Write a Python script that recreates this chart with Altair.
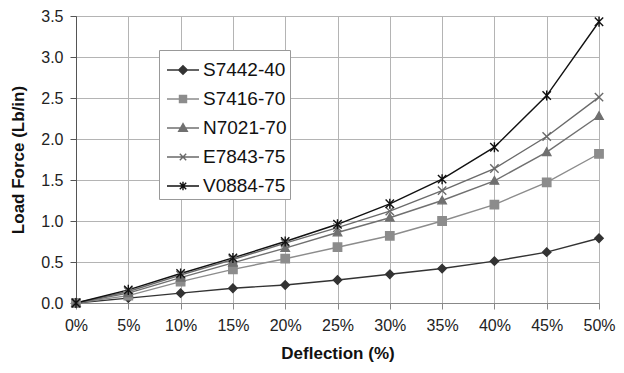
import altair as alt
import pandas as pd

deflection = [0, 5, 10, 15, 20, 25, 30, 35, 40, 45, 50]
series_names = ["S7442-40", "S7416-70", "N7021-70", "E7843-75", "V0884-75"]
s7442_40 = [0, 0.06, 0.12, 0.18, 0.22, 0.28, 0.35, 0.42, 0.51, 0.62, 0.79]
s7416_70 = [0, 0.09, 0.26, 0.41, 0.54, 0.68, 0.82, 1.00, 1.20, 1.47, 1.82]
n7021_70 = [0, 0.12, 0.31, 0.49, 0.67, 0.86, 1.04, 1.25, 1.49, 1.84, 2.28]
e7843_75 = [0, 0.14, 0.34, 0.53, 0.73, 0.92, 1.12, 1.37, 1.64, 2.03, 2.51]
v0884_75 = [0, 0.16, 0.36, 0.55, 0.75, 0.96, 1.21, 1.51, 1.90, 2.53, 3.43]
y_ticks = [0, 0.5, 1.0, 1.5, 2.0, 2.5, 3.0, 3.5]

colors = ["#333333", "#8c8c8c", "#707070", "#6a6a6a", "#111111"]
point_shapes = [
    "M0,-1L1,0L0,1L-1,0Z",
    "M-1,-1H1V1H-1Z",
    "M0,-1L1,0.8H-1Z",
    "M-1,-1L1,1M-1,1L1,-1",
    "M-1,-1L1,1M-1,1L1,-1M0,-1.2V1.2",
]
legend_shapes = [
    "M-1,0H1M0,-0.27L0.27,0L0,0.27L-0.27,0Z",
    "M-1,0H1M-0.22,-0.22H0.22V0.22H-0.22Z",
    "M-1,0H1M0,-0.27L0.27,0.2H-0.27Z",
    "M-1,0H1M-0.2,-0.2L0.2,0.2M-0.2,0.2L0.2,-0.2",
    "M-1,0H1M-0.2,-0.2L0.2,0.2M-0.2,0.2L0.2,-0.2M0,-0.27V0.27",
]

values = [s7442_40, s7416_70, n7021_70, e7843_75, v0884_75]
rows = []
for name, vals in zip(series_names, values):
    for d, v in zip(deflection, vals):
        rows.append({"series": name, "deflection": d, "force": v})
df = pd.DataFrame(rows)

FONT = "Liberation Sans"

x_enc = alt.X(
    "deflection:Q",
    scale=alt.Scale(domain=[0, 50], nice=False),
    axis=alt.Axis(
        values=deflection,
        labelExpr="datum.value + '%'",
        title="Deflection (%)",
        domainColor="#888888",
        tickColor="#888888",
        tickSize=6,
        labelPadding=8,
        labelFlush=False,
        titlePadding=12,
    ),
)
y_enc = alt.Y(
    "force:Q",
    scale=alt.Scale(domain=[0, 3.5], nice=False),
    axis=alt.Axis(
        values=y_ticks,
        format=".1f",
        title="Load Force (Lb/in)",
        domainColor="#555555",
        tickColor="#555555",
        tickSize=6,
        labelPadding=7,
        labelFlush=False,
        titlePadding=13,
    ),
)

stroke_scale = alt.Scale(domain=series_names, range=colors)

lines = alt.Chart(df).mark_line(strokeWidth=1.4).encode(
    x=x_enc,
    y=y_enc,
    stroke=alt.Stroke("series:N", scale=stroke_scale, legend=None),
    detail="series:N",
)

points = alt.Chart(df).mark_point(filled=True, size=70, strokeWidth=1.4, opacity=1).encode(
    x="deflection:Q",
    y="force:Q",
    shape=alt.Shape("series:N", scale=alt.Scale(domain=series_names, range=point_shapes), legend=None),
    fill=alt.Fill("series:N", scale=stroke_scale, legend=None),
    stroke=alt.Stroke("series:N", scale=stroke_scale, legend=None),
)

legend_cfg = alt.Legend(
    title=None,
    orient="none",
    legendX=83,
    legendY=34,
    fillColor="white",
    strokeColor="#999999",
    padding=3,
    symbolOffset=4,
    symbolSize=1024,
    symbolStrokeWidth=1.4,
    labelFont=FONT,
    labelFontSize=19,
    labelColor="#111111",
    labelOffset=3,
    labelExpr="datum.label + ' '",
    rowPadding=2,
)

legend_layer = alt.Chart(df).transform_filter("false").mark_point(filled=True, opacity=1).encode(
    x="deflection:Q",
    y="force:Q",
    shape=alt.Shape("series:N", scale=alt.Scale(domain=series_names, range=legend_shapes), legend=legend_cfg),
    fill=alt.Fill("series:N", scale=alt.Scale(domain=series_names, range=colors), legend=legend_cfg),
    stroke=alt.Stroke("series:N", scale=alt.Scale(domain=series_names, range=colors), legend=legend_cfg),
)

chart = (
    alt.layer(lines, points, legend_layer)
    .resolve_scale(shape="independent", fill="independent", stroke="independent")
    .properties(
        width=523,
        height=287,
        autosize=alt.AutoSizeParams(type="none"),
        padding={"left": 68, "top": 8, "right": 17, "bottom": 62},
    )
    .configure_view(stroke="#999999", strokeWidth=1)
    .configure_axis(
        grid=True,
        gridColor="#b4b4b4",
        gridWidth=1,
        labelFont=FONT,
        labelFontSize=16,
        labelColor="#222222",
        titleFont=FONT,
        titleFontSize=17,
        titleFontWeight="bold",
        titleColor="#111111",
    )
)

chart.save("out.html", embed_options={"renderer": "svg", "actions": False})
